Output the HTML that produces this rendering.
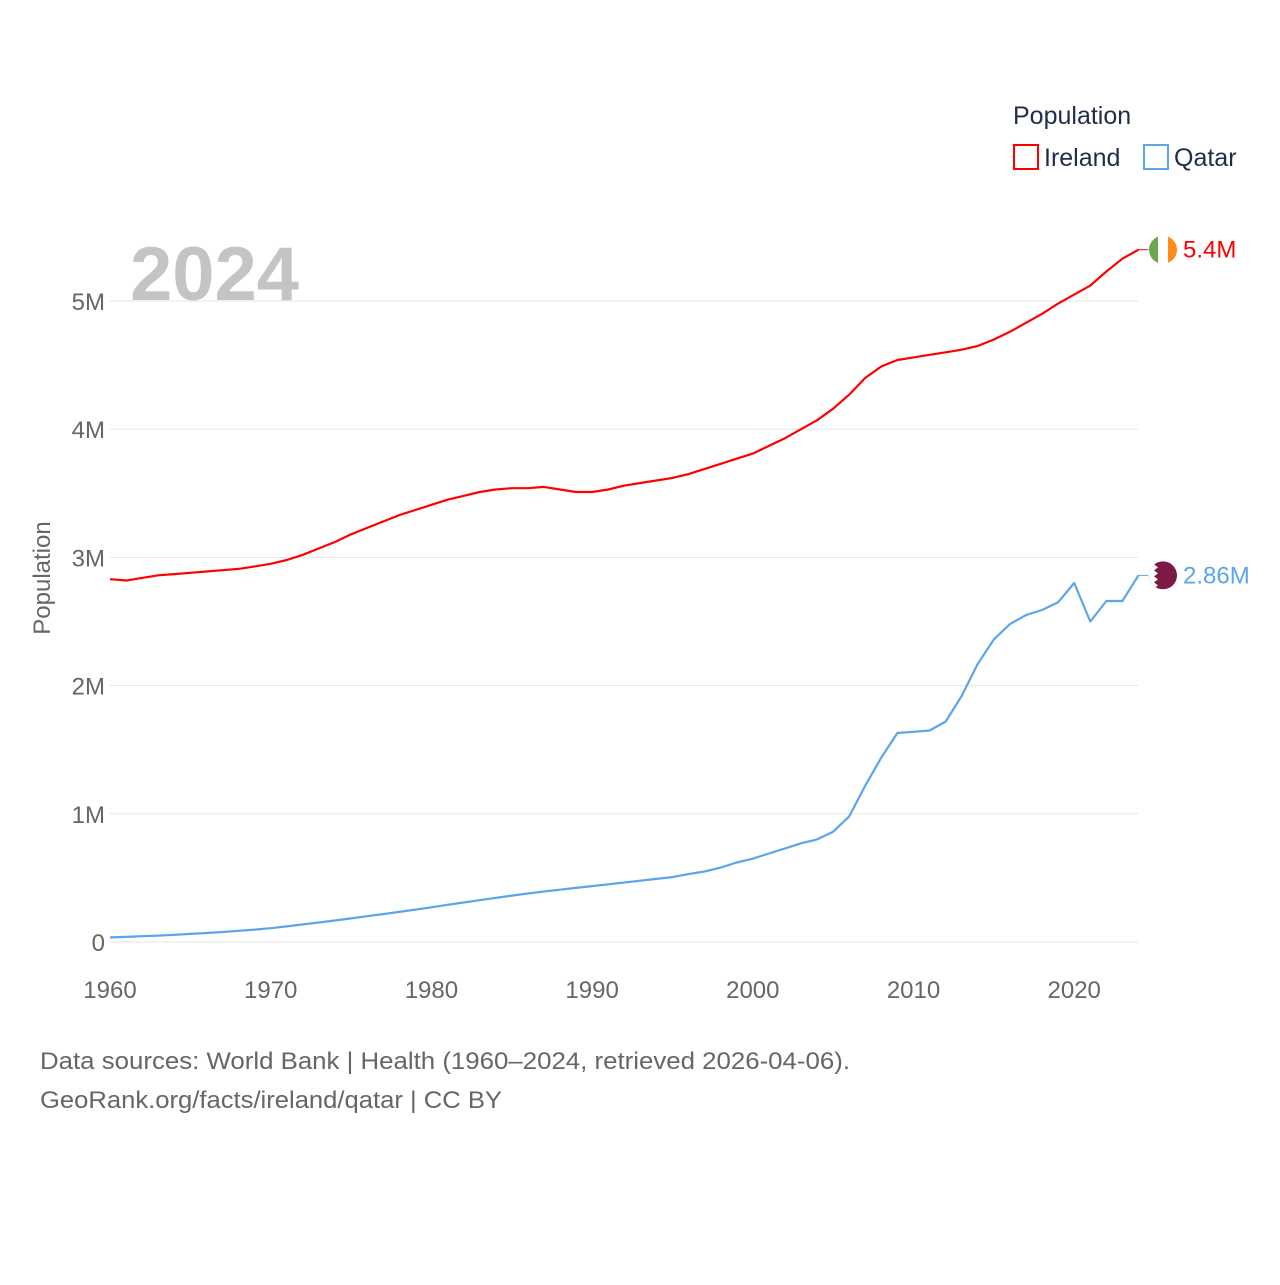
<!DOCTYPE html>
<html><head><meta charset="utf-8"><style>
body{margin:0;background:#fff;font-family:"Liberation Sans",sans-serif}
</style></head><body>
<svg width="1280" height="1280" xmlns="http://www.w3.org/2000/svg">
<g id="grid"></g>
<text x="130" y="300" font-size="76" font-weight="bold" fill="#c4c4c4">2024</text>
<g id="yt"></g>
<g id="xt"></g>
<text transform="translate(50,578) rotate(-90)" text-anchor="middle" font-size="24" fill="#666">Population</text>
<g id="series"></g>
<g>
<text x="1013" y="124" font-size="25" fill="#1f2d4a">Population</text>
<rect x="1014" y="145" width="24" height="24" fill="none" stroke="#f00" stroke-width="2"/>
<text x="1044" y="166" font-size="25" fill="#1f2d4a">Ireland</text>
<rect x="1144" y="145" width="24" height="24" fill="none" stroke="#5ba5ea" stroke-width="2"/>
<text x="1174" y="166" font-size="25" fill="#1f2d4a">Qatar</text>
</g>
<text x="40" y="1069" font-size="24" fill="#666" textLength="810" lengthAdjust="spacingAndGlyphs">Data sources: World Bank | Health (1960–2024, retrieved 2026-04-06).</text>
<text x="40" y="1108" font-size="24" fill="#666" textLength="462" lengthAdjust="spacingAndGlyphs">GeoRank.org/facts/ireland/qatar | CC BY</text>
</svg>
<script>
const years=[];for(let y=1960;y<=2024;y++)years.push(y);
const ireland=[2.83,2.82,2.84,2.86,2.87,2.88,2.89,2.90,2.91,2.93,2.95,2.98,3.02,3.07,3.12,3.18,3.23,3.28,3.33,3.37,3.41,3.45,3.48,3.51,3.53,3.54,3.54,3.55,3.53,3.51,3.51,3.53,3.56,3.58,3.60,3.62,3.65,3.69,3.73,3.77,3.81,3.87,3.93,4.00,4.07,4.16,4.27,4.40,4.49,4.54,4.56,4.58,4.60,4.62,4.65,4.70,4.76,4.83,4.90,4.98,5.05,5.12,5.23,5.33,5.40];
const qatar=[0.036,0.040,0.045,0.050,0.056,0.063,0.070,0.078,0.087,0.097,0.108,0.122,0.137,0.152,0.168,0.184,0.201,0.218,0.235,0.253,0.271,0.290,0.308,0.326,0.344,0.362,0.378,0.394,0.408,0.422,0.436,0.450,0.464,0.478,0.492,0.506,0.53,0.55,0.58,0.62,0.65,0.69,0.73,0.77,0.80,0.86,0.98,1.22,1.44,1.63,1.64,1.65,1.72,1.92,2.17,2.36,2.48,2.55,2.59,2.65,2.80,2.50,2.66,2.66,2.86];
const yTicks=[0,1,2,3,4,5];const yLabels=["0","1M","2M","3M","4M","5M"];
const xTicks=[1960,1970,1980,1990,2000,2010,2020];
const endLabels=["5.4M","2.86M"];
const NS="http://www.w3.org/2000/svg";
const X=v=>110+(v-1960)*(1138.5-110)/64, Y=v=>942-v*128.2;
function mk(t,a,p){const e=document.createElementNS(NS,t);for(const k in a)e.setAttribute(k,a[k]);p.appendChild(e);return e;}
const g=document.getElementById('grid'),yt=document.getElementById('yt'),xt=document.getElementById('xt'),s=document.getElementById('series');
yTicks.forEach((v,i)=>{const l=mk('line',{x1:110,x2:1138,y1:Y(v),y2:Y(v),stroke:'#e6e6e6','stroke-width':1},g);


const t=mk('text',{x:105,y:Y(v)+9,'text-anchor':'end','font-size':24,fill:'#666'},yt);t.textContent=yLabels[i];

});
xTicks.forEach(v=>{const t=mk('text',{x:X(v),y:998,'text-anchor':'middle','font-size':24,fill:'#666'},xt);t.textContent=v;

});
function line(data,color,name,label,flag){
 const d=data.map((v,i)=>(i?'L':'M')+X(years[i]).toFixed(1)+','+Y(v).toFixed(1)).join('');
 const p=mk('path',{d:d,fill:'none',stroke:color,'stroke-width':2.2,'stroke-linejoin':'round'},s);
 
 
 const ly=Y(data[data.length-1]),lx=X(2024);
 mk('line',{x1:lx,x2:lx+10,y1:ly,y2:ly,stroke:color,'stroke-width':1},s);
 const fg=mk('g',{},s);
 const cx=1163,r=14;
 const cp=mk('clipPath',{id:'c'+name},fg);mk('circle',{cx:cx,cy:ly,r:r},cp);
 const gg=mk('g',{'clip-path':'url(#c'+name+')'},fg);
 if(flag==='ie'){mk('rect',{x:cx-r,y:ly-r,width:10,height:28,fill:'#6aa84f'},gg);mk('rect',{x:cx-r+9,y:ly-r,width:10,height:28,fill:'#fff'},gg);mk('rect',{x:cx-r+19,y:ly-r,width:10,height:28,fill:'#ff8c1a'},gg);}
 else{mk('rect',{x:cx-r,y:ly-r,width:28,height:28,fill:'#7a1a45'},gg);mk('path',{d:`M${cx-r},${ly-r}h9l-4,3l4,3l-4,3l4,3l-4,3l4,3l-4,3l4,3l-4,3h-5z`,fill:'#fff'},gg);}
 const t=mk('text',{x:1183,y:ly+8,'font-size':24,fill:color},s);t.textContent=label;
 
 
}
line(ireland,'#ff0000','ireland',endLabels[0],'ie');
line(qatar,'#5ba5ea','qatar',endLabels[1],'qa');
</script>
</body></html>
